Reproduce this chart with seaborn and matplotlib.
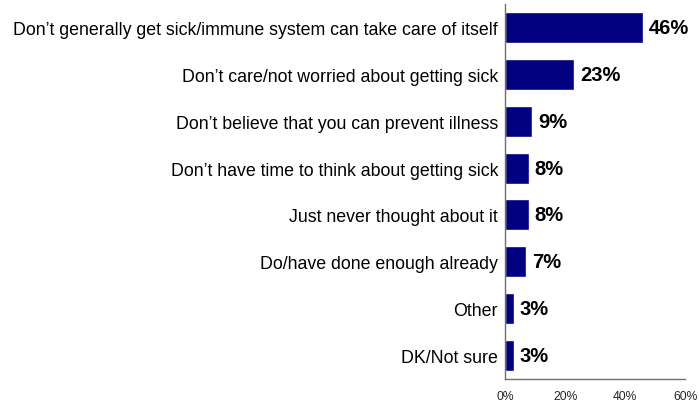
import matplotlib
matplotlib.use("Agg")
import matplotlib.pyplot as plt
import seaborn as sns
import pandas as pd

categories = [
    "Don\u2019t generally get sick/immune system can take care of itself",
    "Don\u2019t care/not worried about getting sick",
    "Don\u2019t believe that you can prevent illness",
    "Don\u2019t have time to think about getting sick",
    "Just never thought about it",
    "Do/have done enough already",
    "Other",
    "DK/Not sure",
]
values = [46, 23, 9, 8, 8, 7, 3, 3]
x_ticks = [0, 20, 40, 60]
x_tick_labels = ["0%", "20%", "40%", "60%"]

sns.set_style("white")
plt.rcParams["font.family"] = ["Liberation Sans", "DejaVu Sans"]

df = pd.DataFrame({"reason": categories, "pct": values})

fig = plt.figure(figsize=(6.99, 4.06), dpi=100)
ax = fig.add_axes([0.7225, 0.064, 0.258, 0.9237])

sns.barplot(data=df, y="reason", x="pct", orient="h", color="#000080",
            saturation=1, width=0.66, ax=ax)

for i, v in enumerate(values):
    ax.text(v + 1.9, i, f"{v}%", va="center", ha="left",
            fontsize=14.5, fontweight="bold", color="black")

ax.set_xlim(0, 60)
ax.set_ylim(7.5, -0.5)
ax.set_xticks(x_ticks)
ax.set_xticklabels(x_tick_labels, fontsize=8.7)
ax.set_xlabel("")
ax.set_ylabel("")
ax.tick_params(axis="y", length=0, pad=5, labelsize=12.8)
ax.tick_params(axis="x", length=4, width=1, color="#707070", direction="out", pad=4)
for lbl in ax.get_yticklabels():
    lbl.set_color("black")

for side in ["top", "right"]:
    ax.spines[side].set_visible(False)
for side in ["left", "bottom"]:
    ax.spines[side].set_visible(True)
    ax.spines[side].set_color("#707070")
    ax.spines[side].set_linewidth(1)

fig.savefig("out.png", dpi=100, facecolor="white")
